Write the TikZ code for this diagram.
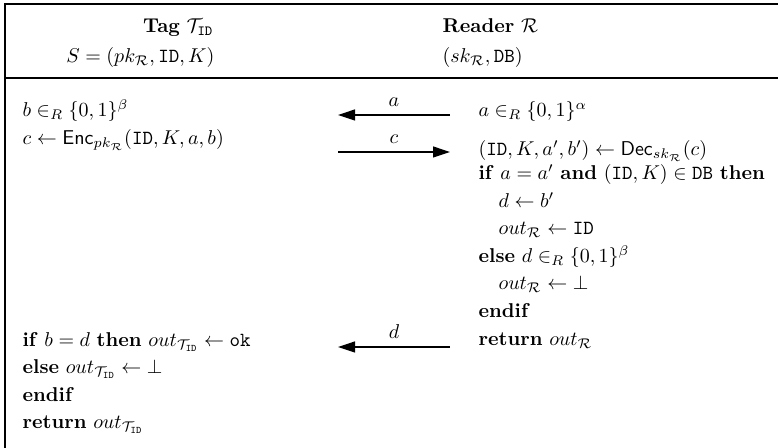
\documentclass[tikz,border=0pt]{standalone}
\usepackage{amsmath}
\usepackage{amssymb}
\usetikzlibrary{arrows.meta}

\newcommand{\Tid}{\mathcal{T}_{\mathtt{ID}}}
\newcommand{\Rdr}{\mathcal{R}}

\begin{document}
\begin{tikzpicture}[x=0.5pt,y=-0.5pt,line width=0.6,
    lt/.style={anchor=base west,inner sep=0},
    rt/.style={anchor=base east,inner sep=0},
    msg/.style={-{Triangle[length=8.5pt,width=5.5pt]}},
    lbl/.style={above=4pt,inner sep=0}]
\useasboundingbox (0,0) rectangle (778,448);
% frame
\draw[line width=1] (5,448)--(5,4)--(778,4);
\draw[line width=1.2] (5,78)--(778,78);
% header
\node[rt] (tag) at (214,33) {\textbf{Tag} $\Tid$};
\node[rt] (tagS) at (215,63) {$S=(pk_{\Rdr},\mathtt{ID},K)$};
\node[lt] (rdr) at (442,33) {\textbf{Reader} $\Rdr$};
\node[lt] (rdrS) at (442,63) {$(sk_{\Rdr},\mathtt{DB})$};
% tag side
\node[lt] (t1) at (22,117) {$b\in_R\{0,1\}^{\beta}$};
\node[lt] (t2) at (22,145) {$c\leftarrow\mathsf{Enc}_{pk_{\Rdr}}(\mathtt{ID},K,a,b)$};
\node[lt] (t3) at (22,346.5) {\textbf{if} $b=d$ \textbf{then} $out_{\Tid}\leftarrow\mathtt{ok}$};
\node[lt] (t4) at (22,374) {\textbf{else} $out_{\Tid}\leftarrow\bot$};
\node[lt] (t5) at (22,401.5) {\textbf{endif}};
\node[lt] (t6) at (22,429) {\textbf{return} $out_{\Tid}$};
% reader side
\node[lt] (r1) at (478,117) {$a\in_R\{0,1\}^{\alpha}$};
\node[lt] (r2) at (478,156) {$(\mathtt{ID},K,a',b')\leftarrow\mathsf{Dec}_{sk_{\Rdr}}(c)$};
\node[lt] (r3) at (478,180) {\textbf{if} $a=a'$ \textbf{and} $(\mathtt{ID},K)\in\mathtt{DB}$ \textbf{then}};
\node[lt] (r4) at (498,207.5) {$d\leftarrow b'$};
\node[lt] (r5) at (498,235) {$out_{\Rdr}\leftarrow\mathtt{ID}$};
\node[lt] (r6) at (478,262.5) {\textbf{else} $d\in_R\{0,1\}^{\beta}$};
\node[lt] (r7) at (498,290) {$out_{\Rdr}\leftarrow\bot$};
\node[lt] (r8) at (478,317.5) {\textbf{endif}};
\node[lt] (r9) at (478,346) {\textbf{return} $out_{\Rdr}$};
% messages
\coordinate (a0) at (338,115);
\coordinate (a1) at (450,115);
\coordinate (c0) at (338,152);
\coordinate (c1) at (450,152);
\coordinate (d0) at (338,347);
\coordinate (d1) at (450,347);
\draw[msg] (a1)--(a0) node[lbl,midway] (la) {$a$};
\draw[msg] (c0)--(c1) node[lbl,midway] (lc) {$c$};
\draw[msg] (d1)--(d0) node[lbl,midway] (ld) {$d$};
\end{tikzpicture}
\end{document}
